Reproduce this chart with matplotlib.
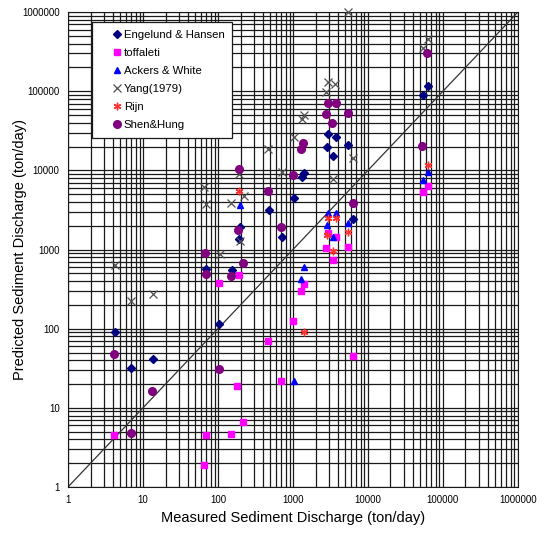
import matplotlib
matplotlib.use('Agg')
import matplotlib.pyplot as plt
from matplotlib.ticker import FixedLocator, FuncFormatter, NullFormatter

plt.rcParams['font.family'] = ['Liberation Sans', 'DejaVu Sans']

# measured (x) vs predicted (y) sediment discharge, ton/day
eh_x = [4.2, 6.9, 13.4, 68.9, 104, 152, 196, 190, 478, 707, 1031, 1403, 1307,
        2960, 3717, 2818, 5474, 3388, 6386, 64040, 53900]
eh_y = [90, 32, 41, 567, 114, 550, 1942, 1345, 3158, 1451, 4520, 9360, 8180,
        28630, 26700, 19950, 20970, 15350, 2410, 117900, 89900]

tof_x = [4.1, 65.4, 68.9, 148.7, 217, 180.5, 103, 192, 468, 685, 1009, 1279, 1403,
         2906, 3717, 2758, 5474, 3388, 6386, 62870, 53900]
tof_y = [4.55, 1.92, 4.6, 4.74, 6.71, 18.8, 374, 476, 70.2, 21.9, 126, 301, 366,
         1602, 1426, 1035, 1085, 736, 45.4, 6350, 5380]

aw_x = [196, 1031, 1403, 1279, 2960, 3717, 5474, 2818, 3388, 64040, 53900]
aw_y = [3652, 21.9, 606, 424, 2869, 2869, 2144, 2042, 1451, 9470, 7570]

yang_x = [4.2, 6.87, 13.4, 65.4, 70, 148.7, 188, 222, 468, 707, 106, 196,
          2960, 3637, 2758, 1403, 1307, 1031, 6386, 3388, 5474, 64040, 53900]
yang_y = [637, 225, 271, 6225, 3728, 3908, 8930, 4750, 18660, 9470, 877, 1300,
          132400, 123900, 97270, 50200, 44320, 26700, 14230, 7720, 1.0e6, 455000, 350300]

rijn_x = [192, 64040, 2960, 3717, 5474, 2818, 3388, 1416]
rijn_y = [5540, 11710, 2480, 2524, 1650, 1525, 957, 91.3]

sh_x = [4.11, 6.87, 13.1, 103, 66.9, 68.3, 148.7, 217, 183, 192, 468, 685, 1009,
        1372, 1279, 2960, 3717, 2758, 5474, 3347, 6386, 62100, 53250]
sh_y = [47.3, 4.88, 16.4, 31.4, 911, 486, 462, 669, 1764, 10420, 5540, 1942, 8750,
        22030, 18660, 71870, 70630, 51700, 53700, 39440, 3908, 302900, 20360]

decades = [1, 10, 100, 1000, 10000, 100000, 1000000]

fig = plt.figure(figsize=(5.44, 5.33), dpi=100)
ax = fig.add_axes([0.125, 0.0863, 0.827, 0.891])
ax.set_xscale('log')
ax.set_yscale('log')
ax.set_xlim(1, 1e6)
ax.set_ylim(1, 1e6)

# dense excel-style log grid
minors = [d * k for d in decades[:-1] for k in range(2, 10)]
fmt = FuncFormatter(lambda v, p: '%d' % round(v))
for axis in (ax.xaxis, ax.yaxis):
    axis.set_major_locator(FixedLocator(decades))
    axis.set_minor_locator(FixedLocator(minors))
    axis.set_major_formatter(fmt)
    axis.set_minor_formatter(NullFormatter())
ax.grid(True, which='both', color='#1a1a1a', lw=0.9)
ax.set_axisbelow(True)
ax.tick_params(which='both', length=0, labelsize=7, pad=6)
for s in ax.spines.values():
    s.set_color('#1a1a1a')

ax.plot([1, 1e6], [1, 1e6], color='#333333', lw=0.9, zorder=2)

ax.plot(eh_x, eh_y, 'D', color='#000080', ms=3.8, ls='none', label='Engelund & Hansen', zorder=3)
ax.plot(tof_x, tof_y, 's', color='#ff00ff', ms=4.2, ls='none', label='toffaleti', zorder=3)
ax.plot(aw_x, aw_y, '^', color='#0000ff', ms=4.8, ls='none', label='Ackers & White', zorder=3)
ax.plot(yang_x, yang_y, 'x', color='#505050', ms=6, mew=0.9, ls='none', label='Yang(1979)',
        zorder=3, clip_on=False)
ax.plot(rijn_x, rijn_y, marker=(6, 2, 0), color='#ff3030', ms=5.5, mew=1.0, ls='none',
        label='Rijn', zorder=3)
ax.plot(sh_x, sh_y, 'o', color='#800080', ms=5.5, ls='none', label='Shen&Hung', zorder=3)

leg = ax.legend(loc='upper left', bbox_to_anchor=(0.053, 0.979), borderaxespad=0,
                fontsize=8.2, frameon=True, fancybox=False, edgecolor='#1a1a1a',
                framealpha=1, handletextpad=-0.9, handlelength=3.0, labelspacing=0.7,
                borderpad=0.7)
leg.get_frame().set_linewidth(0.9)

ax.set_xlabel('Measured Sediment Discharge (ton/day)', fontsize=10.5, labelpad=4)
ax.set_ylabel('Predicted Sediment Discharge (ton/day)', fontsize=10.5)
ax.yaxis.set_label_coords(-0.092, 0.5)

fig.savefig('out.png', dpi=100)
